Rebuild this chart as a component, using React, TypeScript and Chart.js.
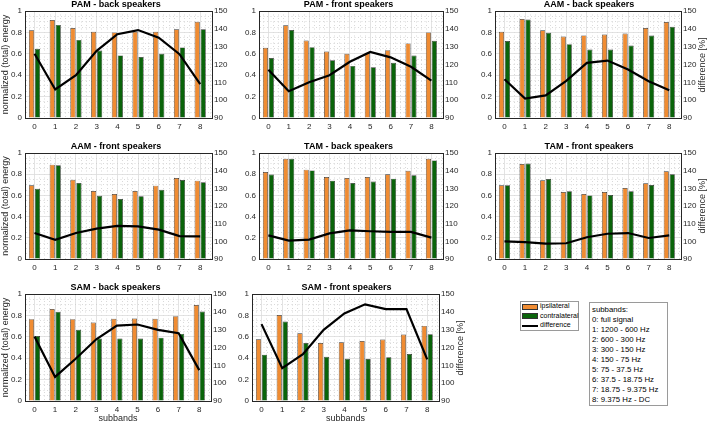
import React, { useEffect, useRef } from 'react';
import { Chart, registerables } from 'chart.js';

Chart.register(...registerables);

// ---------- data ----------
const subbandLabels = ['0', '1', '2', '3', '4', '5', '6', '7', '8'];
const subbandPos = [0, 1, 2, 3, 4, 5, 6, 7, 8];
const leftTicks = [0, 0.2, 0.4, 0.6, 0.8, 1];
const rightTicks = [90, 100, 110, 120, 130, 140, 150];

const panelTitles = [
  'PAM - back speakers',
  'PAM - front speakers',
  'AAM - back speakers',
  'AAM - front speakers',
  'TAM - back speakers',
  'TAM - front speakers',
  'SAM - back speakers',
  'SAM - front speakers',
];

const pamBackIpsi = [0.82, 0.915, 0.84, 0.805, 0.8, 0.805, 0.805, 0.83, 0.9];
const pamBackContra = [0.647, 0.87, 0.73, 0.63, 0.585, 0.57, 0.6, 0.66, 0.83];
const pamBackDiff = [126, 106, 114, 127.7, 137, 139.3, 135, 125.8, 109];

const pamFrontIpsi = [0.656, 0.866, 0.725, 0.622, 0.6, 0.61, 0.634, 0.697, 0.8];
const pamFrontContra = [0.56, 0.822, 0.662, 0.54, 0.487, 0.475, 0.516, 0.584, 0.722];
const pamFrontDiff = [117, 105, 110, 114, 121.5, 127, 124, 118.7, 111];

const aamBackIpsi = [0.806, 0.925, 0.82, 0.762, 0.772, 0.78, 0.79, 0.84, 0.897];
const aamBackContra = [0.72, 0.92, 0.797, 0.69, 0.64, 0.64, 0.678, 0.77, 0.853];
const aamBackDiff = [111.7, 100.9, 102.7, 110.8, 120.9, 122.2, 117.2, 110.6, 105.6];

const aamFrontIpsi = [0.695, 0.89, 0.748, 0.641, 0.613, 0.641, 0.692, 0.764, 0.739];
const aamFrontContra = [0.663, 0.884, 0.717, 0.597, 0.566, 0.591, 0.654, 0.745, 0.723];
const aamFrontDiff = [104.7, 100.9, 104.7, 107.2, 108.7, 108.5, 106.6, 103, 102.8];

const tamBackIpsi = [0.82, 0.946, 0.843, 0.774, 0.764, 0.774, 0.8, 0.833, 0.946];
const tamBackContra = [0.796, 0.946, 0.836, 0.739, 0.717, 0.73, 0.758, 0.79, 0.93];
const tamBackDiff = [103.4, 100.4, 101, 104.5, 106.2, 105.7, 105.3, 105.3, 102.1];

const tamFrontIpsi = [0.695, 0.896, 0.742, 0.632, 0.613, 0.632, 0.67, 0.714, 0.827];
const tamFrontContra = [0.695, 0.9, 0.755, 0.638, 0.6, 0.604, 0.638, 0.698, 0.8];
const tamFrontDiff = [100, 99.6, 98.7, 98.9, 102.3, 104.3, 104.7, 101.9, 103.4];

const samBackIpsi = [0.765, 0.859, 0.765, 0.734, 0.768, 0.771, 0.768, 0.793, 0.897];
const samBackContra = [0.608, 0.834, 0.665, 0.583, 0.583, 0.583, 0.592, 0.627, 0.837];
const samBackDiff = [126.1, 103.5, 113.7, 124.6, 132.3, 132.9, 129.9, 128, 107.3];

const samFrontIpsi = [0.577, 0.803, 0.633, 0.542, 0.549, 0.561, 0.574, 0.621, 0.702];
const samFrontContra = [0.433, 0.743, 0.542, 0.414, 0.395, 0.392, 0.408, 0.439, 0.624];
const samFrontDiff = [133.1, 108.4, 116.3, 129.9, 139.1, 144.2, 141.5, 141.5, 113.3];

const seriesNames = ['ipsilateral', 'contralateral', 'difference'];
const subbandLegend = [
  'subbands:',
  '0: full signal',
  '1: 1200 - 600 Hz',
  '2: 600 - 300 Hz',
  '3: 300 - 150 Hz',
  '4: 150 - 75 Hz',
  '5: 75 - 37.5 Hz',
  '6: 37.5 - 18.75 Hz',
  '7: 18.75 - 9.375 Hz',
  '8: 9.375 Hz - DC',
];

const panelData = [
  [pamBackIpsi, pamBackContra, pamBackDiff],
  [pamFrontIpsi, pamFrontContra, pamFrontDiff],
  [aamBackIpsi, aamBackContra, aamBackDiff],
  [aamFrontIpsi, aamFrontContra, aamFrontDiff],
  [tamBackIpsi, tamBackContra, tamBackDiff],
  [tamFrontIpsi, tamFrontContra, tamFrontDiff],
  [samBackIpsi, samBackContra, samBackDiff],
  [samFrontIpsi, samFrontContra, samFrontDiff],
];

// ---------- layout / style ----------
const FONT = "'Liberation Sans', Arial, Helvetica, sans-serif";
const ORANGE = '#F08C32';
const GREEN = '#0A640A';
const EDGE = '#333333';
const AXIS = '#262626';
const XMIN = -0.46;
const XMAX = 8.57;
const LW = 25;
const TH = 12;

const layouts = [
  { x: 25, y: 11, w: 187, h: 107, left: true, right: false, bottom: false },
  { x: 259, y: 11, w: 184, h: 107, left: false, right: false, bottom: false },
  { x: 495, y: 11, w: 186, h: 107, left: false, right: true, bottom: false },
  { x: 25, y: 153, w: 187, h: 106, left: true, right: false, bottom: false },
  { x: 259, y: 153, w: 184, h: 106, left: false, right: false, bottom: false },
  { x: 495, y: 153, w: 186, h: 106, left: false, right: true, bottom: false },
  { x: 25, y: 294, w: 186, h: 107, left: true, right: false, bottom: true },
  { x: 252, y: 294, w: 187, h: 107, left: false, right: true, bottom: true },
];

const xMinorGrid: number[] = [];
for (let k = -4; k <= 36; k++) {
  const v = k * 0.25;
  if (v > XMIN && v < XMAX && k % 4 !== 0) xMinorGrid.push(v);
}
const yGrid: number[] = [];
for (let k = 0; k <= 20; k++) yGrid.push(k * 0.05);

const isMajorY = (v: any) =>
  typeof v === 'number' && leftTicks.some((t) => Math.abs(t - v) < 1e-6);

function Panel({ idx }: { idx: number }) {
  const ref = useRef<HTMLCanvasElement>(null);
  const L = layouts[idx];
  const RW = L.right ? 27 : 20;
  const BH = L.bottom ? 22 : 16;
  const cw = LW + L.w + RW;
  const ch = TH + L.h + BH;

  useEffect(() => {
    const [ipsi, contra, diff] = panelData[idx];
    const pts = (arr: number[]) => arr.map((y, i) => ({ x: subbandPos[i], y }));
    const tickFont = { family: FONT, size: 8 };
    const MAJOR = '#dcdcdc';
    const MINOR = '#c9c9c9';
    const chart = new Chart(ref.current as HTMLCanvasElement, {
      type: 'bar',
      data: {
        datasets: [
          {
            type: 'line',
            label: seriesNames[2],
            data: pts(diff),
            yAxisID: 'y1',
            xAxisID: 'x',
            borderColor: '#000000',
            borderWidth: 2.2,
            pointRadius: 0,
            tension: 0,
            order: 0,
          } as any,
          {
            label: seriesNames[0],
            data: pts(ipsi),
            backgroundColor: ORANGE,
            borderColor: EDGE,
            borderWidth: 0.7,
            yAxisID: 'y',
            xAxisID: 'x',
            categoryPercentage: 0.58,
            barPercentage: 0.86,
            order: 1,
          },
          {
            label: seriesNames[1],
            data: pts(contra),
            backgroundColor: GREEN,
            borderColor: EDGE,
            borderWidth: 0.7,
            yAxisID: 'y',
            xAxisID: 'x',
            categoryPercentage: 0.58,
            barPercentage: 0.86,
            order: 1,
          },
        ],
      },
      options: {
        responsive: false,
        animation: false,
        devicePixelRatio: 1,
        layout: { padding: 0 },
        plugins: {
          legend: { display: false },
          tooltip: { enabled: false },
          title: {
            display: true,
            text: panelTitles[idx],
            color: '#000',
            font: { family: FONT, size: 9, weight: 'bold', lineHeight: '12px' } as any,
            padding: 0,
          },
        },
        scales: {
          xMinor: {
            type: 'linear',
            position: 'bottom',
            offset: false,
            min: XMIN,
            max: XMAX,
            afterBuildTicks: (s: any) => {
              s.ticks = xMinorGrid.map((v) => ({ value: v }));
            },
            afterFit: (s: any) => {
              s.height = 0;
            },
            ticks: { display: false },
            grid: { offset: false, drawTicks: false, lineWidth: 0.7, color: MINOR },
            border: { display: false, dash: [1, 2.5] },
          },
          x: {
            type: 'linear',
            position: 'bottom',
            offset: false,
            min: XMIN,
            max: XMAX,
            afterBuildTicks: (s: any) => {
              s.ticks = subbandPos.map((v) => ({ value: v }));
            },
            afterFit: (s: any) => {
              s.height = BH;
            },
            ticks: {
              autoSkip: false,
              maxRotation: 0,
              padding: 4,
              color: AXIS,
              font: tickFont,
              callback: (v: any) => {
                const i = subbandPos.indexOf(Math.round(v));
                return i >= 0 ? subbandLabels[i] : '';
              },
            },
            grid: { offset: false, drawTicks: false, lineWidth: 0.8, color: MAJOR },
            border: { display: true, color: AXIS, width: 1 },
            title: {
              display: L.bottom,
              text: 'subbands',
              color: AXIS,
              font: { family: FONT, size: 9, lineHeight: '8px' } as any,
              padding: 0,
            },
          },
          xTop: {
            type: 'linear',
            position: 'top',
            offset: false,
            min: XMIN,
            max: XMAX,
            afterFit: (s: any) => {
              s.height = 0;
            },
            ticks: { display: false },
            grid: { drawOnChartArea: false, drawTicks: false },
            border: { display: true, color: AXIS, width: 1 },
          },
          y: {
            type: 'linear',
            position: 'left',
            min: 0,
            max: 1,
            afterBuildTicks: (s: any) => {
              s.ticks = yGrid.map((v) => ({ value: v }));
            },
            afterFit: (s: any) => {
              s.width = LW;
            },
            ticks: {
              autoSkip: false,
              padding: 3,
              color: AXIS,
              font: tickFont,
              callback: (v: any) => {
                const i = leftTicks.findIndex((t) => Math.abs(t - v) < 1e-6);
                return i >= 0 ? String(leftTicks[i]) : '';
              },
            },
            grid: {
              drawTicks: false,
              lineWidth: (c: any) => (isMajorY(c.tick && c.tick.value) ? 0.8 : 0.7),
              color: (c: any) => (isMajorY(c.tick && c.tick.value) ? MAJOR : MINOR),
            },
            border: {
              display: true,
              color: AXIS,
              width: 1,
              dash: (c: any) => (c.tick && !isMajorY(c.tick.value) ? [1, 2.5] : []),
            } as any,
            title: {
              display: L.left,
              text: 'normalized (total) energy',
              color: AXIS,
              font: { family: FONT, size: 9, lineHeight: '11px' } as any,
              padding: 0,
            },
          },
          y1: {
            type: 'linear',
            position: 'right',
            min: 90,
            max: 150,
            afterBuildTicks: (s: any) => {
              s.ticks = rightTicks.map((v) => ({ value: v }));
            },
            afterFit: (s: any) => {
              s.width = RW;
            },
            ticks: { autoSkip: false, padding: 2, color: AXIS, font: tickFont },
            grid: { drawOnChartArea: false, drawTicks: false },
            border: { display: true, color: AXIS, width: 1 },
          },
        },
      } as any,
    });
    return () => chart.destroy();
  }, [idx]);

  return (
    <div style={{ position: 'absolute', left: L.x - LW, top: L.y - TH, width: cw, height: ch }}>
      <canvas ref={ref} width={cw} height={ch} style={{ width: cw, height: ch, display: 'block' }} />
      {L.right && (
        <div
          style={{
            position: 'absolute',
            left: LW + L.w + 22 - 60,
            top: TH + L.h / 2 - 6,
            width: 120,
            height: 12,
            lineHeight: '12px',
            textAlign: 'center',
            font: `9px ${FONT}`,
            color: AXIS,
            transform: 'rotate(-90deg)',
            whiteSpace: 'nowrap',
          }}
        >
          difference [%]
        </div>
      )}
    </div>
  );
}

export default function App() {
  const swatch = (bg: string, top: number) => (
    <div
      style={{
        position: 'absolute',
        left: 1,
        top,
        width: 16,
        height: 6,
        background: bg,
        border: `1px solid ${EDGE}`,
        boxSizing: 'border-box',
      }}
    />
  );
  const legText = (t: string, top: number) => (
    <div
      style={{
        position: 'absolute',
        left: 19,
        top,
        height: 10,
        lineHeight: '10px',
        font: `7px ${FONT}`,
        color: '#000',
        whiteSpace: 'nowrap',
      }}
    >
      {t}
    </div>
  );
  return (
    <div
      style={{
        position: 'absolute',
        left: 0,
        top: 0,
        width: 708,
        height: 423,
        overflow: 'hidden',
        background: '#fff',
      }}
    >
      {layouts.map((_, i) => (
        <Panel key={i} idx={i} />
      ))}
      {/* series legend */}
      <div
        style={{
          position: 'absolute',
          left: 520,
          top: 301,
          width: 59,
          height: 30,
          border: '1px solid #9a9a9a',
          boxSizing: 'border-box',
          background: '#fff',
        }}
      >
        {swatch(ORANGE, 2)}
        {legText(seriesNames[0], 0)}
        {swatch(GREEN, 11)}
        {legText(seriesNames[1], 10)}
        <div style={{ position: 'absolute', left: 1, top: 23, width: 16, height: 2, background: '#000' }} />
        {legText(seriesNames[2], 19)}
      </div>
      {/* subband legend */}
      <div
        style={{
          position: 'absolute',
          left: 589,
          top: 302,
          width: 79,
          height: 104,
          border: '1px solid #9a9a9a',
          boxSizing: 'border-box',
          background: '#fff',
        }}
      >
        {subbandLegend.map((t, i) => (
          <div
            key={i}
            style={{
              position: 'absolute',
              left: 2,
              top: 2 + i * 10,
              height: 10,
              lineHeight: '10px',
              font: `7.8px ${FONT}`,
              color: '#000',
              whiteSpace: 'nowrap',
            }}
          >
            {t}
          </div>
        ))}
      </div>
    </div>
  );
}
